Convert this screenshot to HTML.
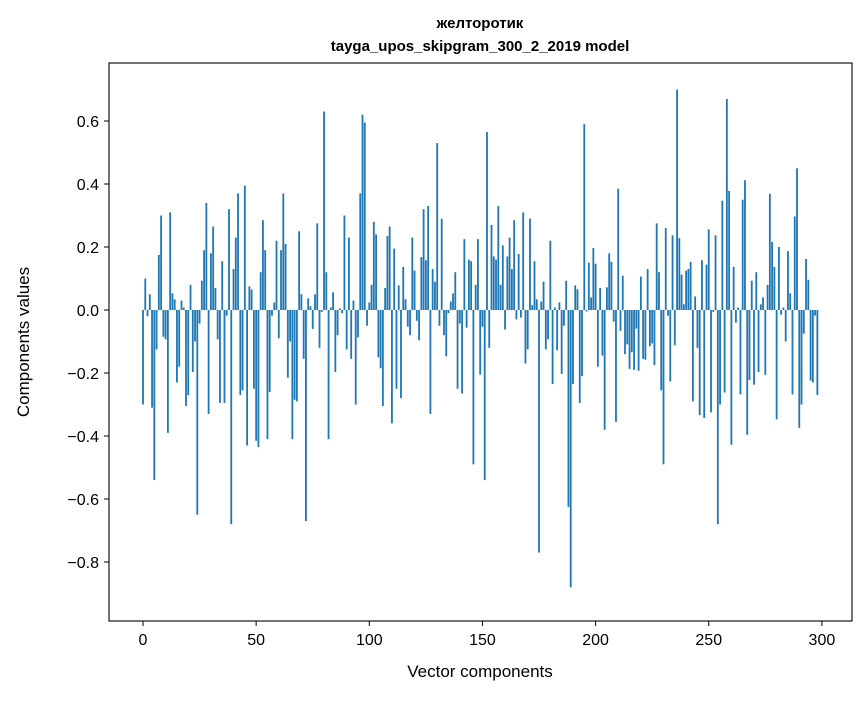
<!DOCTYPE html>
<html><head><meta charset="utf-8"><style>
body{margin:0;background:#fff;}
svg text{font-family:"Liberation Sans","DejaVu Sans",sans-serif;fill:#000;}
</style></head><body>
<svg id="chart" width="867" height="696" xmlns="http://www.w3.org/2000/svg">
<rect x="0" y="0" width="867" height="696" fill="#fff"/>
<text x="480" y="28" text-anchor="middle" font-size="15" font-weight="bold">желторотик</text>
<text x="480" y="51" text-anchor="middle" font-size="15" font-weight="bold">tayga_upos_skipgram_300_2_2019 model</text>
<g id="bars"></g>
<g id="axes"></g>
<rect x="109" y="63" width="743" height="558" fill="none" stroke="#000" stroke-width="1.1"/>
<text x="480" y="677" text-anchor="middle" font-size="17">Vector components</text>
<text transform="translate(29,342) rotate(-90)" text-anchor="middle" font-size="17">Components values</text>
</svg>
<script>
const values = [
-0.30,0.10,-0.02,0.05,-0.31,-0.54,-0.125,0.175,0.30,-0.085,
-0.093,-0.39,0.31,0.053,0.034,-0.23,-0.18,0.03,0.008,-0.305,
-0.27,0.08,-0.197,-0.10,-0.65,-0.043,0.093,0.19,0.34,-0.33,
0.18,0.265,0.07,-0.093,-0.295,0.155,-0.295,-0.018,0.32,-0.68,
0.13,0.23,0.37,-0.27,-0.255,0.395,-0.43,0.075,0.065,-0.25,
-0.415,-0.435,0.12,0.285,0.19,-0.41,-0.26,-0.018,0.024,0.22,
-0.09,0.19,0.37,0.21,-0.215,-0.10,-0.41,-0.285,-0.29,0.25,
0.05,-0.155,-0.67,0.037,0.012,-0.06,0.05,0.275,-0.12,-0.006,
0.63,0.12,-0.41,0.008,0.056,-0.197,-0.08,0.005,-0.01,0.30,
-0.125,0.23,-0.155,0.03,-0.30,-0.087,0.37,0.62,0.595,-0.05,
0.024,0.08,0.28,0.24,-0.15,-0.185,-0.305,0.07,0.235,0.265,
-0.36,0.195,-0.25,0.078,-0.28,0.137,0.034,-0.053,-0.08,0.23,
0.125,-0.034,-0.096,0.168,0.32,0.158,0.33,-0.33,0.13,0.09,
0.53,-0.05,0.29,-0.08,-0.147,-0.01,0.027,0.053,0.12,-0.25,
-0.043,-0.265,0.225,-0.056,0.16,0.155,-0.49,0.08,0.225,-0.205,
-0.053,-0.54,0.565,-0.12,0.27,0.17,0.16,0.33,0.08,0.205,
-0.062,0.17,0.23,0.13,0.285,-0.03,0.178,-0.024,0.31,-0.17,
-0.125,0.29,0.015,0.155,0.034,-0.77,0.027,0.09,-0.125,-0.093,
0.22,-0.235,0.008,-0.128,0.024,-0.203,-0.05,0.093,-0.625,-0.88,
-0.235,0.078,0.066,-0.295,-0.21,0.59,-0.005,0.15,0.04,0.197,
0.147,-0.18,0.07,-0.145,-0.38,0.072,0.18,0.153,-0.037,-0.355,
0.385,-0.066,0.109,-0.14,-0.109,-0.187,-0.134,-0.19,-0.059,-0.193,
0.106,-0.155,-0.158,0.13,-0.115,-0.106,-0.175,0.275,0.12,-0.255,
-0.49,0.26,-0.018,-0.227,0.237,-0.112,0.70,0.228,0.112,0.018,
0.125,0.13,0.153,-0.29,0.043,-0.12,-0.334,0.158,-0.343,0.144,
0.256,-0.325,-0.006,0.237,-0.68,-0.30,0.347,-0.262,0.67,0.378,
-0.428,0.137,-0.04,0.008,-0.268,0.35,0.412,-0.396,-0.222,0.093,
-0.237,0.12,-0.197,0.018,0.04,-0.206,0.08,0.369,0.216,0.137,
-0.347,0.2,-0.015,0.008,-0.1,0.187,0.053,-0.268,0.297,0.45,
-0.374,-0.30,-0.075,0.162,0.096,-0.224,-0.23,-0.018,-0.27
];
const xTicks = [0,50,100,150,200,250,300];
const yTicks = [-0.8,-0.6,-0.4,-0.2,0.0,0.2,0.4,0.6];

const NS = "http://www.w3.org/2000/svg";
function xScale(i){ return 143 + 2.263*i; }
function yScale(v){ return 310 - 315*v; }
const barW = 0.8*2.263;

const gb = document.getElementById('bars');
values.forEach((v,i)=>{
  const r = document.createElementNS(NS,'rect');
  const y0 = yScale(0), y1 = yScale(v);
  r.setAttribute('x', xScale(i)-barW/2);
  r.setAttribute('y', Math.min(y0,y1));
  r.setAttribute('width', barW);
  r.setAttribute('height', Math.abs(y1-y0));
  r.setAttribute('fill', '#1f77b4');
  
  
  gb.appendChild(r);
});

const ga = document.getElementById('axes');
xTicks.forEach(t=>{
  const x = xScale(t);
  const l = document.createElementNS(NS,'line');
  l.setAttribute('x1',x); l.setAttribute('x2',x);
  l.setAttribute('y1',621); l.setAttribute('y2',626);
  l.setAttribute('stroke','#000');
  
  
  ga.appendChild(l);
  const tx = document.createElementNS(NS,'text');
  tx.setAttribute('x',x); tx.setAttribute('y',645);
  tx.setAttribute('text-anchor','middle'); tx.setAttribute('font-size','16');
  tx.textContent = String(t);
  
  
  ga.appendChild(tx);
});
yTicks.forEach(t=>{
  const y = yScale(t);
  const l = document.createElementNS(NS,'line');
  l.setAttribute('x1',104); l.setAttribute('x2',109);
  l.setAttribute('y1',y); l.setAttribute('y2',y);
  l.setAttribute('stroke','#000');
  
  
  ga.appendChild(l);
  const tx = document.createElementNS(NS,'text');
  tx.setAttribute('x',99); tx.setAttribute('y',y+6);
  tx.setAttribute('text-anchor','end'); tx.setAttribute('font-size','16');
  tx.textContent = (t<0?'\u2212':'') + Math.abs(t).toFixed(1);
  
  
  ga.appendChild(tx);
});
</script>
</body></html>
